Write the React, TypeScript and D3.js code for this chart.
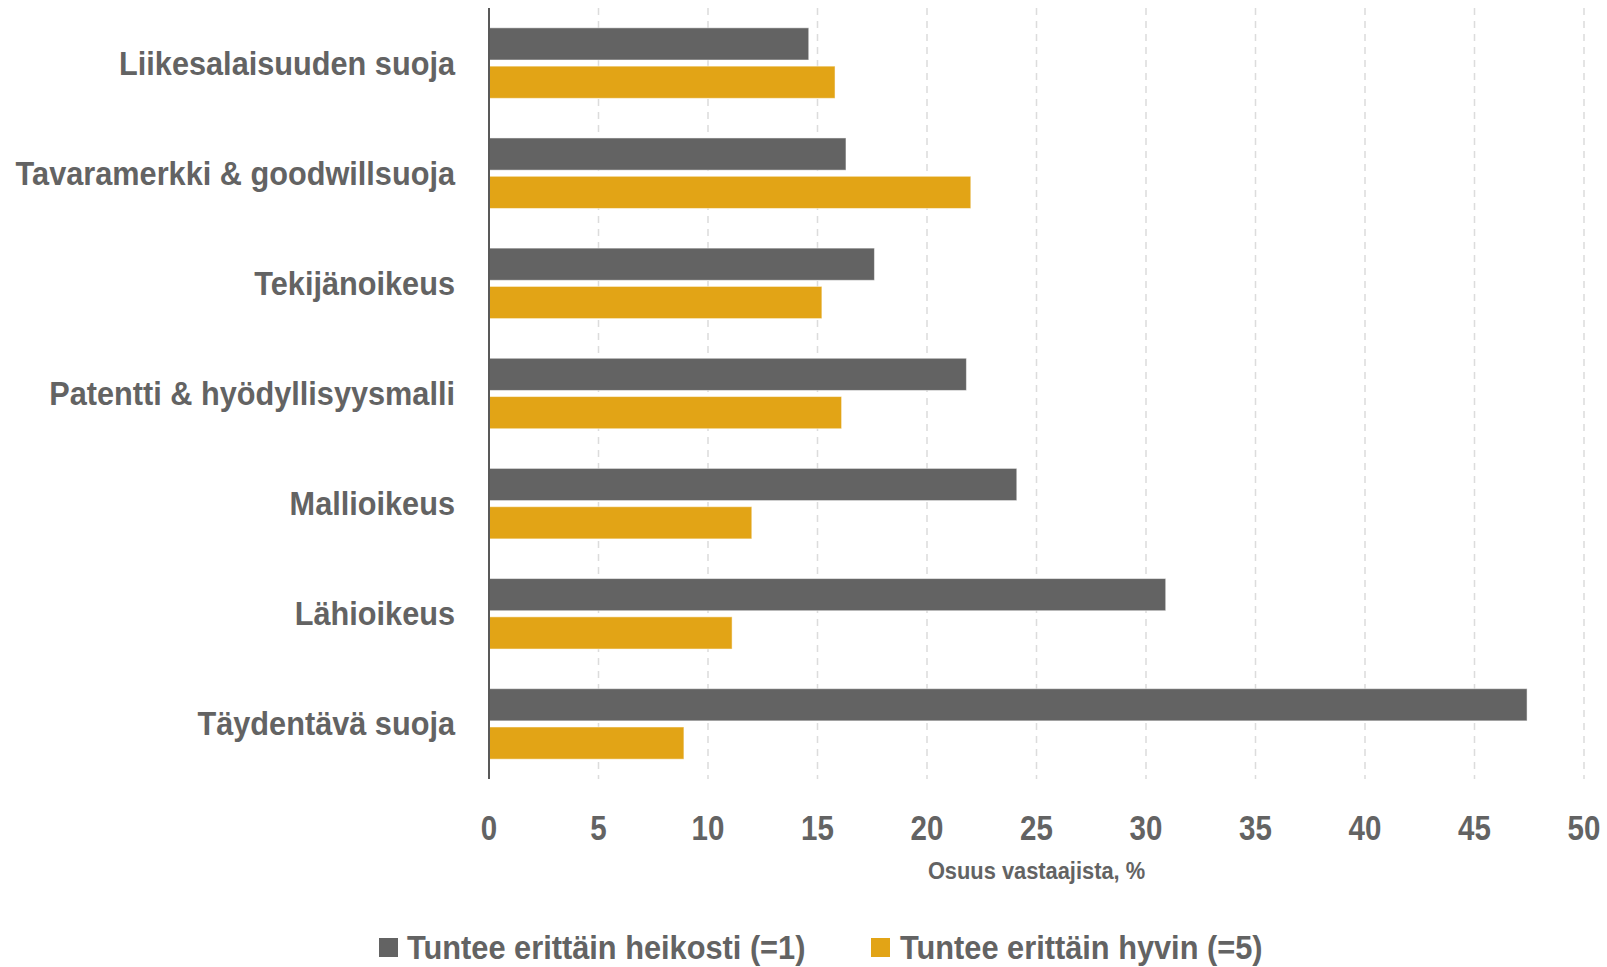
import React from 'react';
import * as d3 from 'd3';

const categories = [
  'Liikesalaisuuden suoja',
  'Tavaramerkki & goodwillsuoja',
  'Tekijänoikeus',
  'Patentti & hyödyllisyysmalli',
  'Mallioikeus',
  'Lähioikeus',
  'Täydentävä suoja',
];
const seriesNames = ['Tuntee erittäin heikosti (=1)', 'Tuntee erittäin hyvin (=5)'];
const weakValues = [14.6, 16.3, 17.6, 21.8, 24.1, 30.9, 47.4];
const strongValues = [15.8, 22.0, 15.2, 16.1, 12.0, 11.1, 8.9];
const xTicks = [0, 5, 10, 15, 20, 25, 30, 35, 40, 45, 50];

const W = 1607;
const H = 967;
const FONT = '"Liberation Sans", Arial, sans-serif';
const TEXT = '#636363';
const COLORS = ['#636363', '#E2A416'];

// bold text squeezed horizontally around its anchor (no narrow font installed)
const NText = ({ x, y, size, squeeze, anchor = 'start', children }: any) => (
  <g transform={`translate(${x},${y}) scale(${squeeze},1)`}>
    <text dy="0.35em" textAnchor={anchor} fontSize={size} fontWeight="bold" fill={TEXT}>
      {children}
    </text>
  </g>
);

const App = () => {
  const x = d3.scaleLinear().domain([0, 50]).range([489, 1584]);
  const y = d3.scaleBand<string>().domain(categories).range([8, 779]).paddingInner(0.36).paddingOuter(0.18);
  const inner = d3.scaleBand<number>().domain([0, 1]).range([0, y.bandwidth()]).paddingInner(0.16);
  const series = [weakValues, strongValues];

  return (
    <svg width={W} height={H} style={{ position: 'absolute', left: 0, top: 0, display: 'block' }} fontFamily={FONT}>
      <rect width={W} height={H} fill="#fff" />
      {/* grid */}
      {xTicks.slice(1).map(t => (
        <line key={t} x1={x(t)} x2={x(t)} y1={8} y2={779} stroke="#dcdcdc" strokeWidth={1.5} strokeDasharray="7,6" />
      ))}
      {/* bars */}
      {categories.map((c, i) => (
        <g key={c} transform={`translate(0, ${y(c)})`}>
          {series.map((vals, s) => (
            <rect
              key={s}
              x={x(0)}
              y={inner(s)}
              width={x(vals[i]) - x(0)}
              height={inner.bandwidth()}
              fill={COLORS[s]}
              stroke="#ffffff"
              strokeOpacity={0.5}
              strokeWidth={1}
            />
          ))}
        </g>
      ))}
      {/* y axis line */}
      <line x1={x(0)} x2={x(0)} y1={8} y2={779} stroke="#595959" strokeWidth={2} />
      {/* category labels */}
      {categories.map(c => (
        <NText key={c} x={455} y={(y(c) ?? 0) + y.bandwidth() / 2} size={33} squeeze={0.93} anchor="end">
          {c}
        </NText>
      ))}
      {/* x tick labels */}
      {xTicks.map(t => (
        <NText key={t} x={x(t)} y={827} size={36} squeeze={0.82} anchor="middle">
          {t}
        </NText>
      ))}
      <NText x={x(25)} y={871} size={24} squeeze={0.91} anchor="middle">
        Osuus vastaajista, %
      </NText>
      {/* legend */}
      {[{ sx: 379, tx: 407 }, { sx: 871, tx: 900 }].map((p, s) => (
        <g key={s}>
          <rect x={p.sx} y={938} width={19} height={19} fill={COLORS[s]} />
          <NText x={p.tx} y={947} size={34} squeeze={0.905}>
            {seriesNames[s]}
          </NText>
        </g>
      ))}
    </svg>
  );
};

export default App;
